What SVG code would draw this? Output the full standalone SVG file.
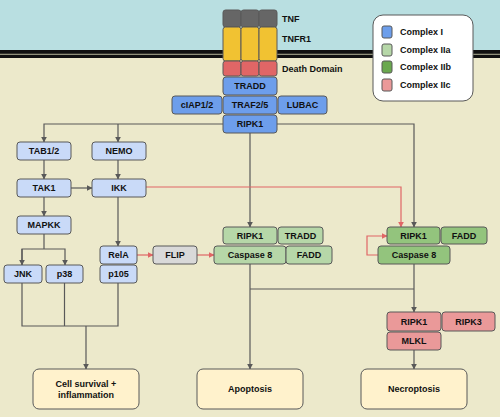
<svg xmlns="http://www.w3.org/2000/svg" width="500" height="417" viewBox="0 0 500 417">
<defs>
<marker id="ag" viewBox="0 0 10 10" refX="9" refY="5" markerWidth="6" markerHeight="6" markerUnits="userSpaceOnUse" orient="auto"><path d="M0,0 L10,5 L0,10 z" fill="#595959"/></marker>
<marker id="ar" viewBox="0 0 10 10" refX="9" refY="5" markerWidth="6" markerHeight="6" markerUnits="userSpaceOnUse" orient="auto"><path d="M0,0 L10,5 L0,10 z" fill="#e06666"/></marker>
<style>
.n rect{stroke:#595959;stroke-width:1}
text{font-family:"Liberation Sans",Arial,sans-serif;font-weight:bold;font-size:9px;fill:#111}
.t{text-anchor:middle;dominant-baseline:central}
.c1{fill:#6d9eeb}.lb{fill:#c9daf8}.c2a{fill:#b6d7a8}.c2b{fill:#93c47d}.c2c{fill:#ea9999}
.g{fill:none;stroke:#595959;stroke-width:1.2}
.r{fill:none;stroke:#e06666;stroke-width:1.2}
</style>
</defs>
<rect x="0" y="0" width="500" height="50" fill="#b9dfe1"/>
<rect x="0" y="50" width="500" height="367" fill="#ece9cb"/>
<rect x="0" y="50" width="500" height="8" fill="#111"/>
<rect x="0" y="53.8" width="500" height="0.9" fill="#c8c8a8"/>

<g id="connectors">
<path class="g" d="M223,124 H44 V142" marker-end="url(#ag)"/>
<path class="g" d="M118,124 V142" marker-end="url(#ag)"/>
<path class="g" d="M277,124 H414 V227" marker-end="url(#ag)"/>
<path class="g" d="M250,133 V227" marker-end="url(#ag)"/>
<path class="g" d="M44,160 V179" marker-end="url(#ag)"/>
<path class="g" d="M71,188 H92" marker-end="url(#ag)"/>
<path class="g" d="M118,160 V179" marker-end="url(#ag)"/>
<path class="g" d="M44,197 V216" marker-end="url(#ag)"/>
<path class="g" d="M44,234 V249 M22,265 V249 H65 V265" marker-end="url(#ag)"/>
<path class="g" d="M22,249 V265" marker-end="url(#ag)"/>
<path class="g" d="M118,197 V246" marker-end="url(#ag)"/>
<path class="r" d="M146,187 H401 V227" marker-end="url(#ar)"/>
<path class="r" d="M137,255 H153" marker-end="url(#ar)"/>
<path class="r" d="M197,255 H214" marker-end="url(#ar)"/>
<path class="r" d="M378,255 H367 V236 H387" marker-end="url(#ar)"/>
<path class="g" d="M22,283 V326 H118 V283 M64.5,283 V326"/>
<path class="g" d="M86,326 V369" marker-end="url(#ag)"/>
<path class="g" d="M250,264 V369" marker-end="url(#ag)"/>
<path class="g" d="M250,289 H414"/>
<path class="g" d="M414,264 V312" marker-end="url(#ag)"/>
<path class="g" d="M414,350 V369" marker-end="url(#ag)"/>
</g>

<g id="tnf" class="n">
<rect x="223" y="10" width="18" height="17" rx="2.5" fill="#666666"/>
<rect x="241" y="10" width="18" height="17" rx="2.5" fill="#666666"/>
<rect x="259" y="10" width="18" height="17" rx="2.5" fill="#666666"/>
<text x="282" y="18.5" dominant-baseline="central">TNF</text>
</g>
<g id="tnfr1" class="n">
<rect x="223" y="27" width="18" height="34" rx="2.5" fill="#f1c232"/>
<rect x="241" y="27" width="18" height="34" rx="2.5" fill="#f1c232"/>
<rect x="259" y="27" width="18" height="34" rx="2.5" fill="#f1c232"/>
<text x="282" y="39" dominant-baseline="central">TNFR1</text>
</g>
<g id="death-domain" class="n">
<rect x="223" y="61" width="18" height="15" rx="2.5" fill="#e06666"/>
<rect x="241" y="61" width="18" height="15" rx="2.5" fill="#e06666"/>
<rect x="259" y="61" width="18" height="15" rx="2.5" fill="#e06666"/>
<text x="282" y="69" dominant-baseline="central">Death Domain</text>
</g>

<g id="tradd" class="n"><rect class="c1" x="223" y="77" width="54" height="18" rx="3"/><text class="t" x="250" y="86">TRADD</text></g>
<g id="ciap" class="n"><rect class="c1" x="172" y="96" width="50" height="18" rx="3"/><text class="t" x="197" y="105">cIAP1/2</text></g>
<g id="traf" class="n"><rect class="c1" x="223" y="96" width="54" height="18" rx="3"/><text class="t" x="250" y="105">TRAF2/5</text></g>
<g id="lubac" class="n"><rect class="c1" x="278" y="96" width="49" height="18" rx="3"/><text class="t" x="302.5" y="105">LUBAC</text></g>
<g id="ripk1-i" class="n"><rect class="c1" x="223" y="115" width="54" height="18" rx="3"/><text class="t" x="250" y="124">RIPK1</text></g>

<g id="tab" class="n"><rect class="lb" x="17" y="142" width="54" height="18" rx="3"/><text class="t" x="44" y="151">TAB1/2</text></g>
<g id="nemo" class="n"><rect class="lb" x="92" y="142" width="54" height="18" rx="3"/><text class="t" x="119" y="151">NEMO</text></g>
<g id="tak1" class="n"><rect class="lb" x="17" y="179" width="54" height="18" rx="3"/><text class="t" x="44" y="188">TAK1</text></g>
<g id="ikk" class="n"><rect class="lb" x="92" y="179" width="54" height="18" rx="3"/><text class="t" x="119" y="188">IKK</text></g>
<g id="mapkk" class="n"><rect class="lb" x="17" y="216" width="54" height="18" rx="3"/><text class="t" x="44" y="225">MAPKK</text></g>
<g id="jnk" class="n"><rect class="lb" x="4" y="265" width="38" height="18" rx="3"/><text class="t" x="23" y="274">JNK</text></g>
<g id="p38" class="n"><rect class="lb" x="46" y="265" width="37" height="18" rx="3"/><text class="t" x="64.5" y="274">p38</text></g>
<g id="rela" class="n"><rect class="lb" x="100" y="246" width="37" height="18" rx="3"/><text class="t" x="118.5" y="255">RelA</text></g>
<g id="p105" class="n"><rect class="lb" x="100" y="265" width="37" height="18" rx="3"/><text class="t" x="118.5" y="274">p105</text></g>
<g id="flip" class="n"><rect x="153" y="246" width="44" height="18" rx="3" fill="#d9d9d9"/><text class="t" x="175" y="255">FLIP</text></g>

<g id="ripk1-iia" class="n"><rect class="c2a" x="223" y="227" width="54" height="17" rx="3"/><text class="t" x="250" y="235.5">RIPK1</text></g>
<g id="tradd-iia" class="n"><rect class="c2a" x="278" y="227" width="45" height="17" rx="3"/><text class="t" x="300.5" y="235.5">TRADD</text></g>
<g id="casp8-iia" class="n"><rect class="c2a" x="214" y="246" width="72" height="18" rx="3"/><text class="t" x="250" y="255">Caspase 8</text></g>
<g id="fadd-iia" class="n"><rect class="c2a" x="286" y="246" width="46" height="18" rx="3"/><text class="t" x="309" y="255">FADD</text></g>

<g id="ripk1-iib" class="n"><rect class="c2b" x="387" y="227" width="53" height="17" rx="3"/><text class="t" x="413.5" y="235.5">RIPK1</text></g>
<g id="fadd-iib" class="n"><rect class="c2b" x="441" y="227" width="46" height="17" rx="3"/><text class="t" x="464" y="235.5">FADD</text></g>
<g id="casp8-iib" class="n"><rect class="c2b" x="378" y="246" width="72" height="18" rx="3"/><text class="t" x="414" y="255">Caspase 8</text></g>

<g id="ripk1-iic" class="n"><rect class="c2c" x="387" y="312" width="54" height="19" rx="3"/><text class="t" x="414" y="321.5">RIPK1</text></g>
<g id="ripk3" class="n"><rect class="c2c" x="442" y="312" width="53" height="19" rx="3"/><text class="t" x="468.5" y="321.5">RIPK3</text></g>
<g id="mlkl" class="n"><rect class="c2c" x="387" y="332" width="54" height="18" rx="3"/><text class="t" x="414" y="341">MLKL</text></g>

<g id="survival" class="n"><rect x="33" y="369" width="106" height="40" rx="6" fill="#fff2cc"/><text class="t" x="86" y="383.5">Cell survival +</text><text class="t" x="86" y="395">inflammation</text></g>
<g id="apoptosis" class="n"><rect x="197" y="369" width="106" height="40" rx="6" fill="#fff2cc"/><text class="t" x="250" y="389">Apoptosis</text></g>
<g id="necroptosis" class="n"><rect x="361" y="369" width="106" height="40" rx="6" fill="#fff2cc"/><text class="t" x="414" y="389">Necroptosis</text></g>

<g id="legend" class="n">
<rect x="373" y="15" width="100" height="86" rx="10" fill="#ffffff"/>
<rect x="382" y="26" width="10" height="12" rx="2" class="c1"/>
<rect x="382" y="44" width="10" height="12" rx="2" class="c2a"/>
<rect x="382" y="61" width="10" height="12" rx="2" fill="#6aa84f"/>
<rect x="382" y="79" width="10" height="12" rx="2" class="c2c"/>
<text x="400" y="32" dominant-baseline="central">Complex I</text>
<text x="400" y="50" dominant-baseline="central">Complex IIa</text>
<text x="400" y="67" dominant-baseline="central">Complex IIb</text>
<text x="400" y="85" dominant-baseline="central">Complex IIc</text>
</g>
</svg>
